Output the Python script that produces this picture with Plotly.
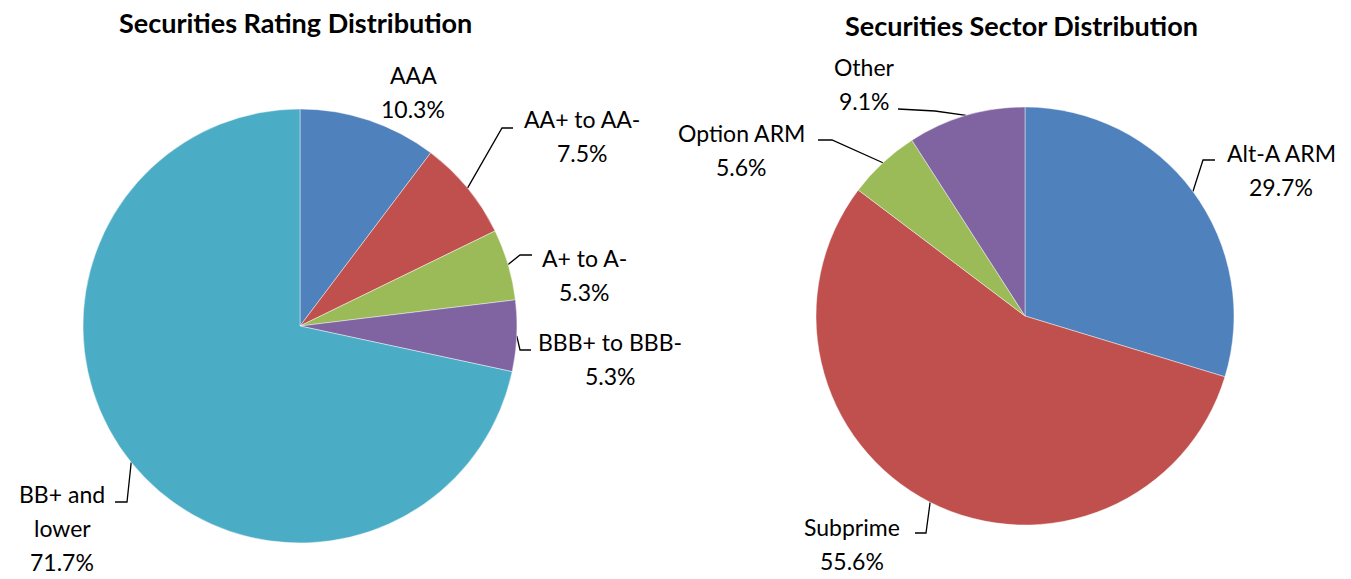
import math
import plotly.graph_objects as go

W, H = 1351, 579

# ---- data ----
rating_labels = ["AAA", "AA+ to AA-", "A+ to A-", "BBB+ to BBB-", "BB+ and lower"]
rating_values = [10.3, 7.5, 5.3, 5.3, 71.7]
sector_labels = ["Alt-A ARM", "Subprime", "Option ARM", "Other"]
sector_values = [29.7, 55.6, 5.6, 9.1]
colors5 = ["#4F81BD", "#C0504D", "#9BBB59", "#8064A2", "#4BACC6"]

FONT = "Lato"
LABEL_SIZE = 23
TITLE_SIZE = 27

# ---- layout (pixel positions) ----
pies = [
    dict(cx=300, cy=326, r=217, labels=rating_labels, values=rating_values,
         title="Securities Rating Distribution", tx=295, ty=22,
         text=[
             (["AAA", "10.3%"], 413, 75, None),
             (["AA+ to AA-", "7.5%"], 582, 119, [(502, 128), (513, 128)]),
             (["A+ to A-", "5.3%"], 584, 258, [(520, 255), (532, 255)]),
             (["BBB+ to BBB-", "5.3%"], 610, 342, [(520, 350), (531, 350)]),
             (["BB+ and", "lower", "71.7%"], 62, 494, [(127, 502), (115, 502)]),
         ]),
    dict(cx=1025, cy=316, r=209, labels=sector_labels, values=sector_values,
         title="Securities Sector Distribution", tx=1021, ty=25,
         text=[
             (["Alt-A ARM", "29.7%"], 1281, 153, [(1203, 160), (1215, 160)]),
             (["Subprime", "55.6%"], 852, 527, [(926, 533), (915, 533)]),
             (["Option ARM", "5.6%"], 741, 133, [(832, 140), (818, 140)]),
             (["Other", "9.1%"], 864, 67, [(935, 111), (898, 109)]),
         ]),
]

LINE_H = 34
fig = go.Figure()
annotations = []

for p in pies:
    cx, cy, r = p["cx"], p["cy"], p["r"]
    fig.add_trace(go.Pie(
        labels=p["labels"], values=p["values"], sort=False, direction="clockwise",
        rotation=0, textinfo="none", hoverinfo="label+percent", showlegend=False,
        marker=dict(colors=colors5[:len(p["values"])],
                    line=dict(color="rgba(255,255,255,0.55)", width=0.8)),
        domain=dict(x=[(cx - r) / W, (cx + r) / W], y=[(H - cy - r) / H, (H - cy + r) / H]),
    ))
    annotations.append(dict(x=p["tx"], y=p["ty"], xref="x", yref="y", text="<b>" + p["title"] + "</b>",
                            showarrow=False, xanchor="center", yanchor="middle",
                            font=dict(family=FONT, size=TITLE_SIZE, color="black")))
    total = sum(p["values"])
    cum = 0.0
    for v, (lines, lx, ly, elbow) in zip(p["values"], p["text"]):
        ang = (cum + v * 0.5) / total * 2 * math.pi
        cum += v
        for i, t in enumerate(lines):
            annotations.append(dict(x=lx, y=ly + i * LINE_H, xref="x", yref="y", text=t,
                                    showarrow=False, xanchor="center", yanchor="middle",
                                    font=dict(family=FONT, size=LABEL_SIZE, color="black")))
        if elbow:
            sx = cx + r * math.sin(ang)
            sy = cy - r * math.cos(ang)
            xs = [sx] + [e[0] for e in elbow]
            ys = [sy] + [e[1] for e in elbow]
            fig.add_trace(go.Scatter(x=xs, y=ys, mode="lines", line=dict(color="black", width=1.3),
                                     hoverinfo="skip", showlegend=False))

fig.update_layout(
    width=W, height=H, margin=dict(l=0, r=0, t=0, b=0),
    paper_bgcolor="white", plot_bgcolor="rgba(0,0,0,0)",
    xaxis=dict(range=[0, W], visible=False, fixedrange=True, domain=[0, 1]),
    yaxis=dict(range=[H, 0], visible=False, fixedrange=True, domain=[0, 1]),
    annotations=annotations,
)

fig.write_html("out.html", config={"displayModeBar": False},
               post_script="document.body.style.margin='0px';document.body.style.overflow='hidden';")
